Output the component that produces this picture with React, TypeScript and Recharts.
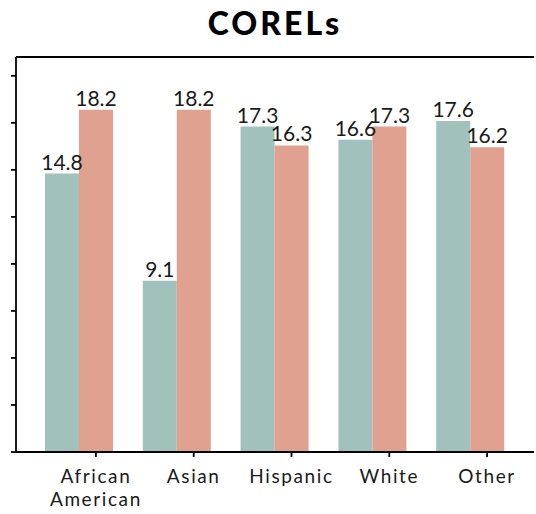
import React from "react";
import { BarChart, Bar, XAxis, YAxis, LabelList, ReferenceLine } from "recharts";

const categories = ["African\nAmerican", "Asian", "Hispanic", "White", "Other"];
const groupA = [14.8, 9.1, 17.3, 16.6, 17.6];
const groupB = [18.2, 18.2, 16.3, 17.3, 16.2];
const yTicks = [0, 2.5, 5, 7.5, 10, 12.5, 15, 17.5, 20];
const yMax = 21;
const title = "CORELs";

const data = categories.map((c, i) => ({ cat: c, a: groupA[i], b: groupB[i] }));

const BAR = 34;
const FONT = "Lato, 'Open Sans', sans-serif";
const TEAL = "#A0C1BC";
const SALMON = "#E0A190";
const AXIS_W = 1.8;

const XTick = (props: any) => {
  const { x, y, payload } = props;
  const cx = x + BAR / 2;
  const axisY = y - 8;
  const lines = String(payload.value).split("\n");
  return (
    <g>
      <line x1={cx} x2={cx} y1={axisY} y2={axisY + 5} stroke="#000" strokeWidth={AXIS_W} />
      {lines.map((l, i) => (
        <text
          key={i}
          x={cx}
          y={axisY + 31 + i * 23}
          textAnchor="middle"
          fontFamily={FONT}
          fontSize={19}
          letterSpacing={1.6}
          fill="#1a1a1a"
        >
          {l}
        </text>
      ))}
    </g>
  );
};

const EmptyTick = () => <g />;

export default function App() {
  return (
    <div style={{ position: "absolute", left: 0, top: 0, width: 536, height: 514, background: "#fff" }}>
      <div
        style={{
          position: "absolute",
          left: 16,
          width: 518,
          top: 3,
          textAlign: "center",
          fontFamily: FONT,
          fontWeight: 900,
          fontSize: 32,
          letterSpacing: 3,
          color: "#000",
        }}
      >
        {title}
      </div>
      <BarChart
        width={536}
        height={514}
        data={data}
        margin={{ top: 57, right: 2, bottom: 0, left: 0 }}
        barGap={0}
        barSize={BAR}
      >
        <XAxis
          dataKey="cat"
          height={62}
          padding={{ left: 14, right: 15 }}
          tickLine={false}
          tickSize={5}
          tickMargin={3}
          interval={0}
          axisLine={{ stroke: "#000", strokeWidth: AXIS_W }}
          tick={<XTick />}
        />
        <YAxis
          width={16}
          domain={[0, yMax]}
          ticks={yTicks}
          interval={0}
          tick={EmptyTick}
          tickSize={5}
          tickLine={{ stroke: "#000", strokeWidth: AXIS_W }}
          axisLine={{ stroke: "#000", strokeWidth: AXIS_W }}
        />
        <YAxis
          yAxisId="r"
          orientation="right"
          width={0}
          domain={[0, yMax]}
          tick={false}
          tickLine={false}
          axisLine={{ stroke: "#000", strokeWidth: AXIS_W }}
        />
        <ReferenceLine y={yMax} stroke="#000" strokeWidth={AXIS_W} />
        <Bar dataKey="a" fill={TEAL} isAnimationActive={false}>
          <LabelList dataKey="a" position="top" offset={4} fontFamily={FONT} fontSize={21} fill="#1a1a1a" />
        </Bar>
        <Bar dataKey="b" fill={SALMON} isAnimationActive={false}>
          <LabelList dataKey="b" position="top" offset={4} fontFamily={FONT} fontSize={21} fill="#1a1a1a" />
        </Bar>
      </BarChart>
    </div>
  );
}
